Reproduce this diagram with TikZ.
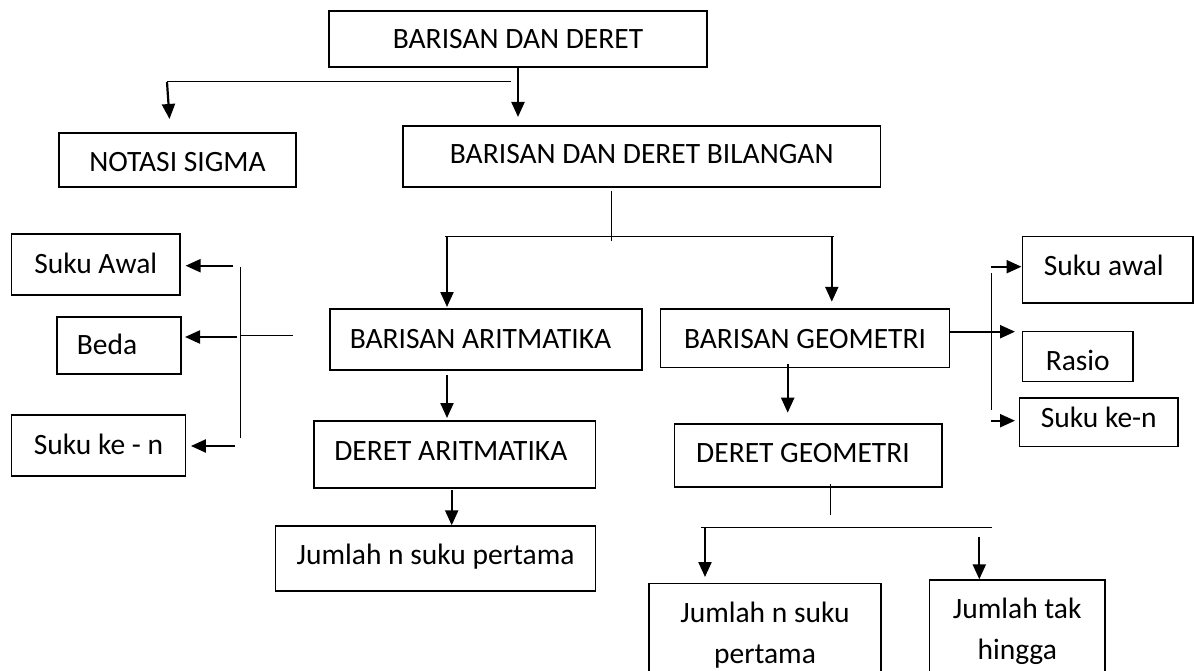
\documentclass[tikz,border=0pt]{standalone}
\usepackage{fontspec}
\setmainfont{Carlito}
\usetikzlibrary{arrows.meta}
\begin{document}
\begin{tikzpicture}[x=1pt,y=-1pt,
  box/.style={draw, line width=1.3pt, inner sep=0pt, outer sep=0pt, align=center,
    font=\fontsize{29.5pt}{41pt}\selectfont},
  arr/.style={line width=2.2pt, -{Triangle[length=15pt,width=13pt]}},
  link/.style={line width=1pt}]
\useasboundingbox (0,0) rectangle (1194,671);
\clip (0,0) rectangle (1194,671);

% boxes
\node[box, minimum width=378pt, minimum height=56pt, text height=29.3pt, text depth=10.7pt] (bdd) at (518,39) {BARISAN DAN DERET};
\node[box, minimum width=237pt, minimum height=54pt, text height=32pt, text depth=8pt] (ns) at (177.5,160) {NOTASI SIGMA};
\node[box, minimum width=477.5pt, minimum height=61pt, text height=27.5pt, text depth=12.5pt] (bddb) at (641.75,156.5) {BARISAN DAN DERET BILANGAN};
\node[box, minimum width=168.5pt, minimum height=61pt, text height=28.8pt, text depth=11.2pt] (sa) at (95.75,264.5) {Suku Awal};
\node[box, minimum width=124pt, minimum height=57pt, text height=28.5pt, text depth=11.5pt] (beda) at (119,345.5) {Beda\hspace{24pt}};
\node[box, minimum width=174pt, minimum height=61pt, text height=28.5pt, text depth=11.5pt] (skn) at (98.5,445.5) {Suku ke - n};
\node[box, minimum width=312pt, minimum height=61pt, text height=28.8pt, text depth=11.2pt] (ba) at (486,339.5) {BARISAN ARITMATIKA\hspace{11pt}};
\node[box, minimum width=289pt, minimum height=58.7pt, text height=30pt, text depth=10pt] (bg) at (805,338.4) {BARISAN GEOMETRI};
\node[box, minimum width=281.6pt, minimum height=67pt, text height=25.5pt, text depth=14.5pt] (da) at (454.8,454.5) {DERET ARITMATIKA\hspace{8pt}};
\node[box, minimum width=267.3pt, minimum height=63pt, text height=27.2pt, text depth=12.8pt] (dg) at (808.3,455.5) {DERET GEOMETRI\hspace{10.6pt}};
\node[box, minimum width=320pt, minimum height=65pt, text height=25.8pt, text depth=14.2pt] (jl) at (435.6,558.5) {Jumlah n suku pertama};
\node[box, minimum width=170.4pt, minimum height=66.3pt, text height=25.2pt, text depth=14.8pt] (rsa) at (1107.8,269.85) {Suku awal\hspace{8pt}};
\node[box, minimum width=110.4pt, minimum height=50pt, text height=33.3pt, text depth=6.7pt] (rr) at (1077.8,356.7) {Rasio};
\node[box, minimum width=158.5pt, minimum height=48.7pt, text height=25pt, text depth=15pt] (rskn) at (1098.75,422.35) {Suku ke-n};
\node[box, minimum width=232pt, minimum height=103.6pt] (jn) at (765,635.5) {Jumlah n suku\\pertama};
\node[box, minimum width=175.5pt, minimum height=102pt] (jt) at (1017.25,631) {Jumlah tak\\hingga};

% top split
\coordinate (t1) at (511,82);
\coordinate (t2) at (167,82);
\draw[arr] (bdd.south) -- ([yshift=9pt]bddb.north -| bdd.south);
\draw[link] (t1) -- (t2);
\draw[arr] (t2) -- ([xshift=-8pt,yshift=14pt]ns.north);

% bilangan split
\coordinate (v1) at (611.5,191);
\coordinate (sl) at (445,237);
\coordinate (sr) at (834,237);
\coordinate (al) at (447,237);
\coordinate (ar) at (831.8,237);
\draw[link] (v1) -- ++(0,50);
\draw[link] (sl) -- (sr);
\draw[arr] (al) -- ([yshift=2pt]ba.north -| al);
\draw[arr] (ar) -- ([yshift=7.3pt]bg.north -| ar);

% down the columns
\coordinate (a2) at (447,375);
\coordinate (a3) at (787.7,364);
\coordinate (a4) at (451.7,490);
\draw[arr] (a2) -- ([yshift=3pt]da.north -| a2);
\draw[arr] (a3) -- ([yshift=11.3pt]dg.north -| a3);
\draw[arr] (a4) -- ([yshift=0.7pt]jl.north -| a4);

% deret geometri split
\coordinate (v2) at (830.8,484);
\coordinate (hl) at (701,527);
\coordinate (hr) at (991.6,527);
\coordinate (b1) at (705,527);
\coordinate (b2) at (979.3,537);
\draw[link] (v2) -- ++(0,31);
\draw[link] (hl) -- (hr);
\draw[arr] (b1) -- ([yshift=6.7pt]jn.north -| b1);
\draw[arr] (b2) -- ([yshift=0.7pt]jt.north -| b2);

% left bracket
\coordinate (lv) at (240,267);
\coordinate (lh) at (240,335.7);
\coordinate (l1) at (233,265.7);
\coordinate (l2) at (237,337);
\coordinate (l3) at (235,446);
\draw[link] (lv) -- ++(0,171);
\draw[link] (lh) -- ([xshift=-37pt]ba.west |- lh);
\draw[arr] (l1) -- ([xshift=5.6pt]sa.east |- l1);
\draw[arr] (l2) -- ([xshift=4pt]beda.east |- l2);
\draw[arr] (l3) -- ([xshift=5.4pt]skn.east |- l3);

% right bracket
\coordinate (rv) at (991.6,273);
\coordinate (r1) at (990.8,266.7);
\coordinate (r3) at (990.8,420.7);
\draw[link] (rv) -- ++(0,137);
\draw[arr] (r1) -- ([xshift=-1.1pt]rsa.west |- r1);
\draw[arr] ([yshift=6.7pt]bg.east) -- ([xshift=-7.6pt,yshift=6.7pt]bg.east -| rr.west);
\draw[arr] (r3) -- ([xshift=-4.5pt]rskn.west |- r3);
\end{tikzpicture}
\end{document}
